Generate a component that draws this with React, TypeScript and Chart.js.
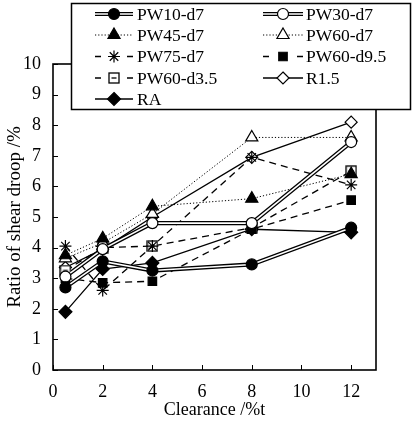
import React, { useEffect, useRef } from 'react';
import { Chart, registerables } from 'chart.js';

Chart.register(...registerables);

// Clearance (% of sheet thickness) at which each punch/die pair was tested
const clearance = [0.5, 2, 4, 8, 12];

// Ratio of shear droop (%) for each tool condition
const pw10d7 = [2.7, 3.55, 3.25, 3.45, 4.65];
const pw30d7 = [3.05, 3.95, 4.8, 4.8, 7.45];
const pw45d7 = [3.75, 4.3, 5.35, 5.6, 6.4];
const pw60d7 = [3.65, 4.15, 5.1, 7.6, 7.6];
const pw75d7 = [4.05, 2.6, 4.05, 6.95, 6.05];
const pw60d95 = [3.0, 2.85, 2.9, 4.6, 5.55];
const pw60d35 = [3.25, 4.0, 4.05, 4.65, 6.5];
const r15 = [3.35, 3.95, 5.0, 6.95, 8.1];
const ra = [1.9, 3.3, 3.5, 4.6, 4.5];

const seriesLabels = ['PW10-d7', 'PW30-d7', 'PW45-d7', 'PW60-d7', 'PW75-d7', 'PW60-d9.5', 'PW60-d3.5', 'R1.5', 'RA'];

const xTickValues = [0, 2, 4, 6, 8, 10, 12];
const yTickValues = [0, 1, 2, 3, 4, 5, 6, 7, 8, 9, 10];

const FONT_FAMILY = '"Liberation Serif", "Times New Roman", serif';
const TICK_FONT_SIZE = 18;
const LEGEND_FONT_SIZE = 17.5;

type LineKind = 'double' | 'dotted' | 'dashed' | 'solid';

interface Series {
  label: string;
  values: number[];
  kind: LineKind;
  marker: string; // chart.js point style name, or 'boxminus'
  filled: boolean;
  radius: number;
}

const series: Series[] = [
  { label: seriesLabels[0], values: pw10d7, kind: 'double', marker: 'circle', filled: true, radius: 5.5 },
  { label: seriesLabels[1], values: pw30d7, kind: 'double', marker: 'circle', filled: false, radius: 5.5 },
  { label: seriesLabels[2], values: pw45d7, kind: 'dotted', marker: 'triangle', filled: true, radius: 7 },
  { label: seriesLabels[3], values: pw60d7, kind: 'dotted', marker: 'triangle', filled: false, radius: 7 },
  { label: seriesLabels[4], values: pw75d7, kind: 'dashed', marker: 'star', filled: false, radius: 6 },
  { label: seriesLabels[5], values: pw60d95, kind: 'dashed', marker: 'rect', filled: true, radius: 6 },
  { label: seriesLabels[6], values: pw60d35, kind: 'dashed', marker: 'boxminus', filled: false, radius: 6 },
  { label: seriesLabels[7], values: r15, kind: 'solid', marker: 'rectRot', filled: false, radius: 6 },
  { label: seriesLabels[8], values: ra, kind: 'solid', marker: 'rectRot', filled: true, radius: 6.5 },
];

function makeBoxMinus(size: number): HTMLCanvasElement {
  const c = document.createElement('canvas');
  c.width = size;
  c.height = size;
  const g = c.getContext('2d') as CanvasRenderingContext2D;
  g.fillStyle = '#fff';
  g.fillRect(1, 1, size - 2, size - 2);
  g.strokeStyle = '#000';
  g.lineWidth = 1.3;
  g.strokeRect(1, 1, size - 2, size - 2);
  g.beginPath();
  g.moveTo(3.5, size / 2);
  g.lineTo(size - 3.5, size / 2);
  g.stroke();
  return c;
}

function dashFor(kind: LineKind): number[] {
  if (kind === 'dashed') return [7, 5];
  if (kind === 'dotted') return [1.2, 2];
  return [];
}

function drawMarker(ctx: CanvasRenderingContext2D, s: Series, x: number, y: number, boxMinus: HTMLCanvasElement) {
  const r = s.radius;
  ctx.save();
  ctx.setLineDash([]);
  ctx.lineWidth = 1.2;
  ctx.strokeStyle = '#000';
  ctx.fillStyle = s.filled ? '#000' : '#fff';
  ctx.beginPath();
  switch (s.marker) {
    case 'circle':
      ctx.arc(x, y, r, 0, Math.PI * 2);
      ctx.fill();
      ctx.stroke();
      break;
    case 'triangle': {
      const h = r * 1.5;
      const e = (r * 3) / Math.sqrt(3);
      ctx.moveTo(x, y - h * 2 / 3);
      ctx.lineTo(x + e / 2, y + h / 3);
      ctx.lineTo(x - e / 2, y + h / 3);
      ctx.closePath();
      ctx.fill();
      ctx.stroke();
      break;
    }
    case 'rect': {
      const a = r * Math.SQRT1_2 * 2;
      ctx.rect(x - a / 2, y - a / 2, a, a);
      ctx.fill();
      ctx.stroke();
      break;
    }
    case 'rectRot':
      ctx.moveTo(x, y - r);
      ctx.lineTo(x + r, y);
      ctx.lineTo(x, y + r);
      ctx.lineTo(x - r, y);
      ctx.closePath();
      ctx.fill();
      ctx.stroke();
      break;
    case 'star': {
      const d = r * Math.SQRT1_2;
      ctx.moveTo(x - r, y); ctx.lineTo(x + r, y);
      ctx.moveTo(x, y - r); ctx.lineTo(x, y + r);
      ctx.moveTo(x - d, y - d); ctx.lineTo(x + d, y + d);
      ctx.moveTo(x - d, y + d); ctx.lineTo(x + d, y - d);
      ctx.stroke();
      break;
    }
    case 'boxminus':
      ctx.drawImage(boxMinus, x - boxMinus.width / 2, y - boxMinus.height / 2);
      break;
  }
  ctx.restore();
}

export default function App() {
  const canvasRef = useRef<HTMLCanvasElement | null>(null);

  useEffect(() => {
    document.body.style.margin = '0';
    const canvas = canvasRef.current;
    if (!canvas) return;

    const boxMinus = makeBoxMinus(12);

    const datasets: any[] = [];
    series.forEach((s) => {
      const pts = clearance.map((x, i) => ({ x, y: s.values[i] }));
      if (s.kind === 'double') {
        // dark outer stroke; the white inner stroke on top makes it a double line
        datasets.push({
          label: s.label + ' outline',
          data: pts,
          borderColor: '#000',
          borderWidth: 4.2,
          pointRadius: 0,
          fill: false,
          order: 1,
        });
      }
      datasets.push({
        label: s.label,
        data: pts,
        borderColor: s.kind === 'double' ? '#fff' : '#000',
        borderWidth: s.kind === 'double' ? 1.6 : s.kind === 'dotted' ? 1 : 1.3,
        borderDash: dashFor(s.kind),
        pointStyle: s.marker === 'boxminus' ? boxMinus : s.marker,
        pointRadius: s.radius,
        pointBackgroundColor: s.filled ? '#000' : '#fff',
        pointBorderColor: '#000',
        pointBorderWidth: 1.2,
        fill: false,
        order: 0,
      });
    });

    const framePlugin = {
      id: 'frame',
      beforeDatasetsDraw(chart: any) {
        const { ctx, chartArea } = chart;
        const xs = chart.scales.x;
        const ys = chart.scales.y;
        ctx.save();
        ctx.strokeStyle = '#000';
        ctx.lineWidth = 1.6;
        ctx.strokeRect(chartArea.left, chartArea.top, chartArea.right - chartArea.left, chartArea.bottom - chartArea.top);
        ctx.lineWidth = 1;
        ctx.beginPath();
        yTickValues.forEach((v) => {
          const py = Math.round(ys.getPixelForValue(v)) + 0.5;
          ctx.moveTo(chartArea.left, py);
          ctx.lineTo(chartArea.left + 5, py);
        });
        xTickValues.forEach((v) => {
          const px = Math.round(xs.getPixelForValue(v)) + 0.5;
          ctx.moveTo(px, chartArea.bottom);
          ctx.lineTo(px, chartArea.bottom - 5);
        });
        ctx.stroke();
        ctx.restore();
      },
    };

    const legendPlugin = {
      id: 'boxLegend',
      afterDraw(chart: any) {
        const ctx: CanvasRenderingContext2D = chart.ctx;
        const box = { x: 71.5, y: 3.5, w: 339, h: 106 };
        ctx.save();
        ctx.fillStyle = '#fff';
        ctx.fillRect(box.x, box.y, box.w, box.h);
        ctx.strokeStyle = '#000';
        ctx.lineWidth = 1.5;
        ctx.strokeRect(box.x, box.y, box.w, box.h);

        const cols = [
          { x0: 95, x1: 133, tx: 137 },
          { x0: 263, x1: 303, tx: 306 },
        ];
        const rowY = [14, 35, 56.5, 78, 99];
        ctx.font = `${LEGEND_FONT_SIZE}px ${FONT_FAMILY}`;
        ctx.textBaseline = 'middle';
        ctx.textAlign = 'left';

        series.forEach((s, i) => {
          const c = cols[i % 2];
          const y = rowY[Math.floor(i / 2)];
          const mx = (c.x0 + c.x1) / 2;
          ctx.strokeStyle = '#000';
          if (s.kind === 'double') {
            ctx.setLineDash([]);
            ctx.lineWidth = 4.2;
            ctx.beginPath(); ctx.moveTo(c.x0, y); ctx.lineTo(c.x1, y); ctx.stroke();
            ctx.strokeStyle = '#fff';
            ctx.lineWidth = 1.6;
            ctx.beginPath(); ctx.moveTo(c.x0, y); ctx.lineTo(c.x1, y); ctx.stroke();
          } else if (s.kind === 'dashed') {
            ctx.setLineDash([]);
            ctx.lineWidth = 1.3;
            ctx.beginPath();
            ctx.moveTo(c.x0, y); ctx.lineTo(c.x0 + 6, y);
            ctx.moveTo(c.x1 - 6, y); ctx.lineTo(c.x1, y);
            ctx.stroke();
          } else {
            ctx.setLineDash(dashFor(s.kind));
            ctx.lineWidth = s.kind === 'dotted' ? 1 : 1.3;
            ctx.beginPath(); ctx.moveTo(c.x0, y); ctx.lineTo(c.x1, y); ctx.stroke();
          }
          ctx.setLineDash([]);
          drawMarker(ctx, s, mx, y, boxMinus);
          ctx.fillStyle = '#000';
          ctx.fillText(s.label, c.tx, y + 1);
        });
        ctx.restore();
      },
    };

    const tickFont = { family: FONT_FAMILY, size: TICK_FONT_SIZE };

    const chart = new Chart(canvas, {
      type: 'line',
      data: { datasets },
      options: {
        animation: false,
        responsive: false,
        devicePixelRatio: 1,
        layout: { padding: { top: 64, right: 36, left: 0, bottom: 0 } },
        plugins: {
          legend: { display: false },
          tooltip: { enabled: false },
        },
        scales: {
          x: {
            type: 'linear',
            min: 0,
            max: 13,
            ticks: {
              stepSize: 2,
              includeBounds: false,
              color: '#000',
              font: tickFont,
              padding: 11,
              maxRotation: 0,
            },
            afterBuildTicks: (scale: any) => {
              scale.ticks = xTickValues.map((v) => ({ value: v }));
            },
            grid: { display: false, drawTicks: false },
            border: { display: false },
            title: { display: true, text: 'Clearance /%t', color: '#000', font: { family: FONT_FAMILY, size: 18 }, padding: 0 },
            afterFit: (scale: any) => { scale.height = 51; },
          },
          y: {
            type: 'linear',
            min: 0,
            max: 10,
            ticks: { stepSize: 1, color: '#000', font: tickFont, padding: 12 },
            afterBuildTicks: (scale: any) => {
              scale.ticks = yTickValues.map((v) => ({ value: v }));
            },
            grid: { display: false, drawTicks: false },
            border: { display: false },
            title: { display: true, text: 'Ratio of shear droop /%', color: '#000', font: { family: FONT_FAMILY, size: 19 }, padding: 4 },
            afterFit: (scale: any) => { scale.width = 53; },
          },
        },
      } as any,
      plugins: [framePlugin, legendPlugin],
    });

    return () => chart.destroy();
  }, []);

  return (
    <div style={{ width: 412, height: 421, background: '#fff' }}>
      <canvas ref={canvasRef} width={412} height={421} />
    </div>
  );
}
